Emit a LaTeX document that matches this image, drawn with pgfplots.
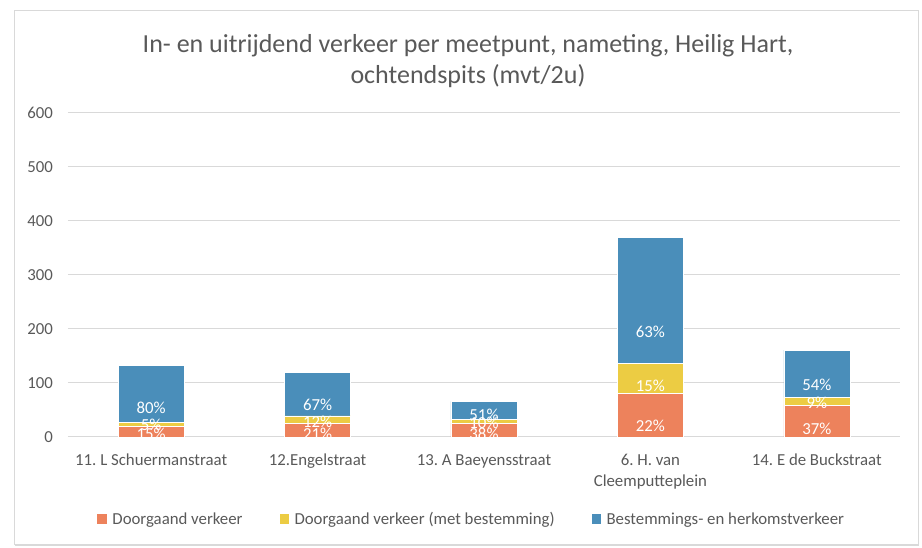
\documentclass[border=0pt]{standalone}
\usepackage{fontspec}
\setmainfont{Carlito}
\usepackage{pgfplots}
\usepackage{pgfplotstable}
\pgfplotsset{compat=1.18}
\frenchspacing
\definecolor{corange}{RGB}{237,130,92}
\definecolor{cyellow}{RGB}{236,204,67}
\definecolor{cblue}{RGB}{74,142,186}
\definecolor{cgrid}{RGB}{217,217,217}
\definecolor{ctext}{RGB}{89,89,89}
\pgfplotstableread{
x o y b po py pb
0 20 7 105 15 5 80
1 25 14 81 21 12 67
2 25 7 34 38 10 51
3 81 55 234 22 15 63
4 59 15 87 37 9 54
}\data
\begin{document}
\frenchspacing
\begin{tikzpicture}[x=1pt,y=1pt]
\path[use as bounding box] (0,0) rectangle (922,548);
\draw[cgrid, line width=1pt] (14.5,3.5) rectangle (918,537.5);
\draw[cgrid, line width=1.5pt] (918.5,3) -- (918.5,537.5);
\draw[cgrid, line width=1.5pt] (14.5,3) -- (918.5,3);
\node[text=ctext, align=center, font=\fontsize{26}{31}\selectfont] at (468,487) {In- en uitrijdend verkeer per meetpunt, nameting, Heilig Hart,\\ochtendspits (mvt/2u)};
\begin{axis}[
  at={(68pt,111pt)}, anchor=south west,
  scale only axis, width=832pt, height=324pt,
  ybar stacked, bar width=66pt,
  xmin=-0.5, xmax=4.5, ymin=0, ymax=600,
  ytick={0,100,...,600},
  xtick={0,1,2,3,4},
  xticklabels={11. L Schuermanstraat, 12.Engelstraat, 13. A Baeyensstraat, {6. H. van\\Cleemputteplein}, 14. E de Buckstraat},
  axis line style={draw=none},
  major tick length=0pt,
  ymajorgrids, major grid style={cgrid, line width=1pt},
  tick label style={text=ctext, font=\fontsize{16.8}{21}\selectfont\frenchspacing},
  xticklabel style={align=center, anchor=north, inner sep=0pt, yshift=-17pt},
  yticklabel style={anchor=east, inner sep=0pt, xshift=-15pt},
  /pgf/number format/assume math mode=true,
  nodes near coords={\pgfmathprintnumber{\pgfplotspointmeta}\%},
  every node near coord/.append style={font=\fontsize{16.8}{21}\selectfont, text=white, anchor=center, inner sep=0pt, shift={(axis direction cs:0,-\rawy/4)}},
  point meta=explicit,
  legend columns=3,
  legend style={at={(0.484,-0.253)}, anchor=center, draw=none, fill=none,
    font=\fontsize{16.8}{21}\selectfont, text=ctext,
    nodes={inner sep=0pt},
    /tikz/every odd column/.append style={column sep=6pt},
    /tikz/every even column/.append style={column sep=37pt}},
]
\addplot[fill=corange, draw=white, line width=0.5pt,
  visualization depends on={\thisrow{o} \as \rawy},
  legend image code/.code={\fill[corange] (0pt,-4.5pt) rectangle (8.5pt,4.5pt);}]
  table[x=x, y=o, meta=po]{\data};
\addlegendentry{Doorgaand verkeer}
\addplot[fill=cyellow, draw=white, line width=0.5pt,
  visualization depends on={\thisrow{y} \as \rawy},
  legend image code/.code={\fill[cyellow] (0pt,-4.5pt) rectangle (8.5pt,4.5pt);}]
  table[x=x, y=y, meta=py]{\data};
\addlegendentry{Doorgaand verkeer (met bestemming)}
\addplot[fill=cblue, draw=white, line width=0.5pt,
  visualization depends on={\thisrow{b} \as \rawy},
  legend image code/.code={\fill[cblue] (0pt,-4.5pt) rectangle (8.5pt,4.5pt);}]
  table[x=x, y=b, meta=pb]{\data};
\addlegendentry{Bestemmings- en herkomstverkeer}
\end{axis}
\end{tikzpicture}
\end{document}
